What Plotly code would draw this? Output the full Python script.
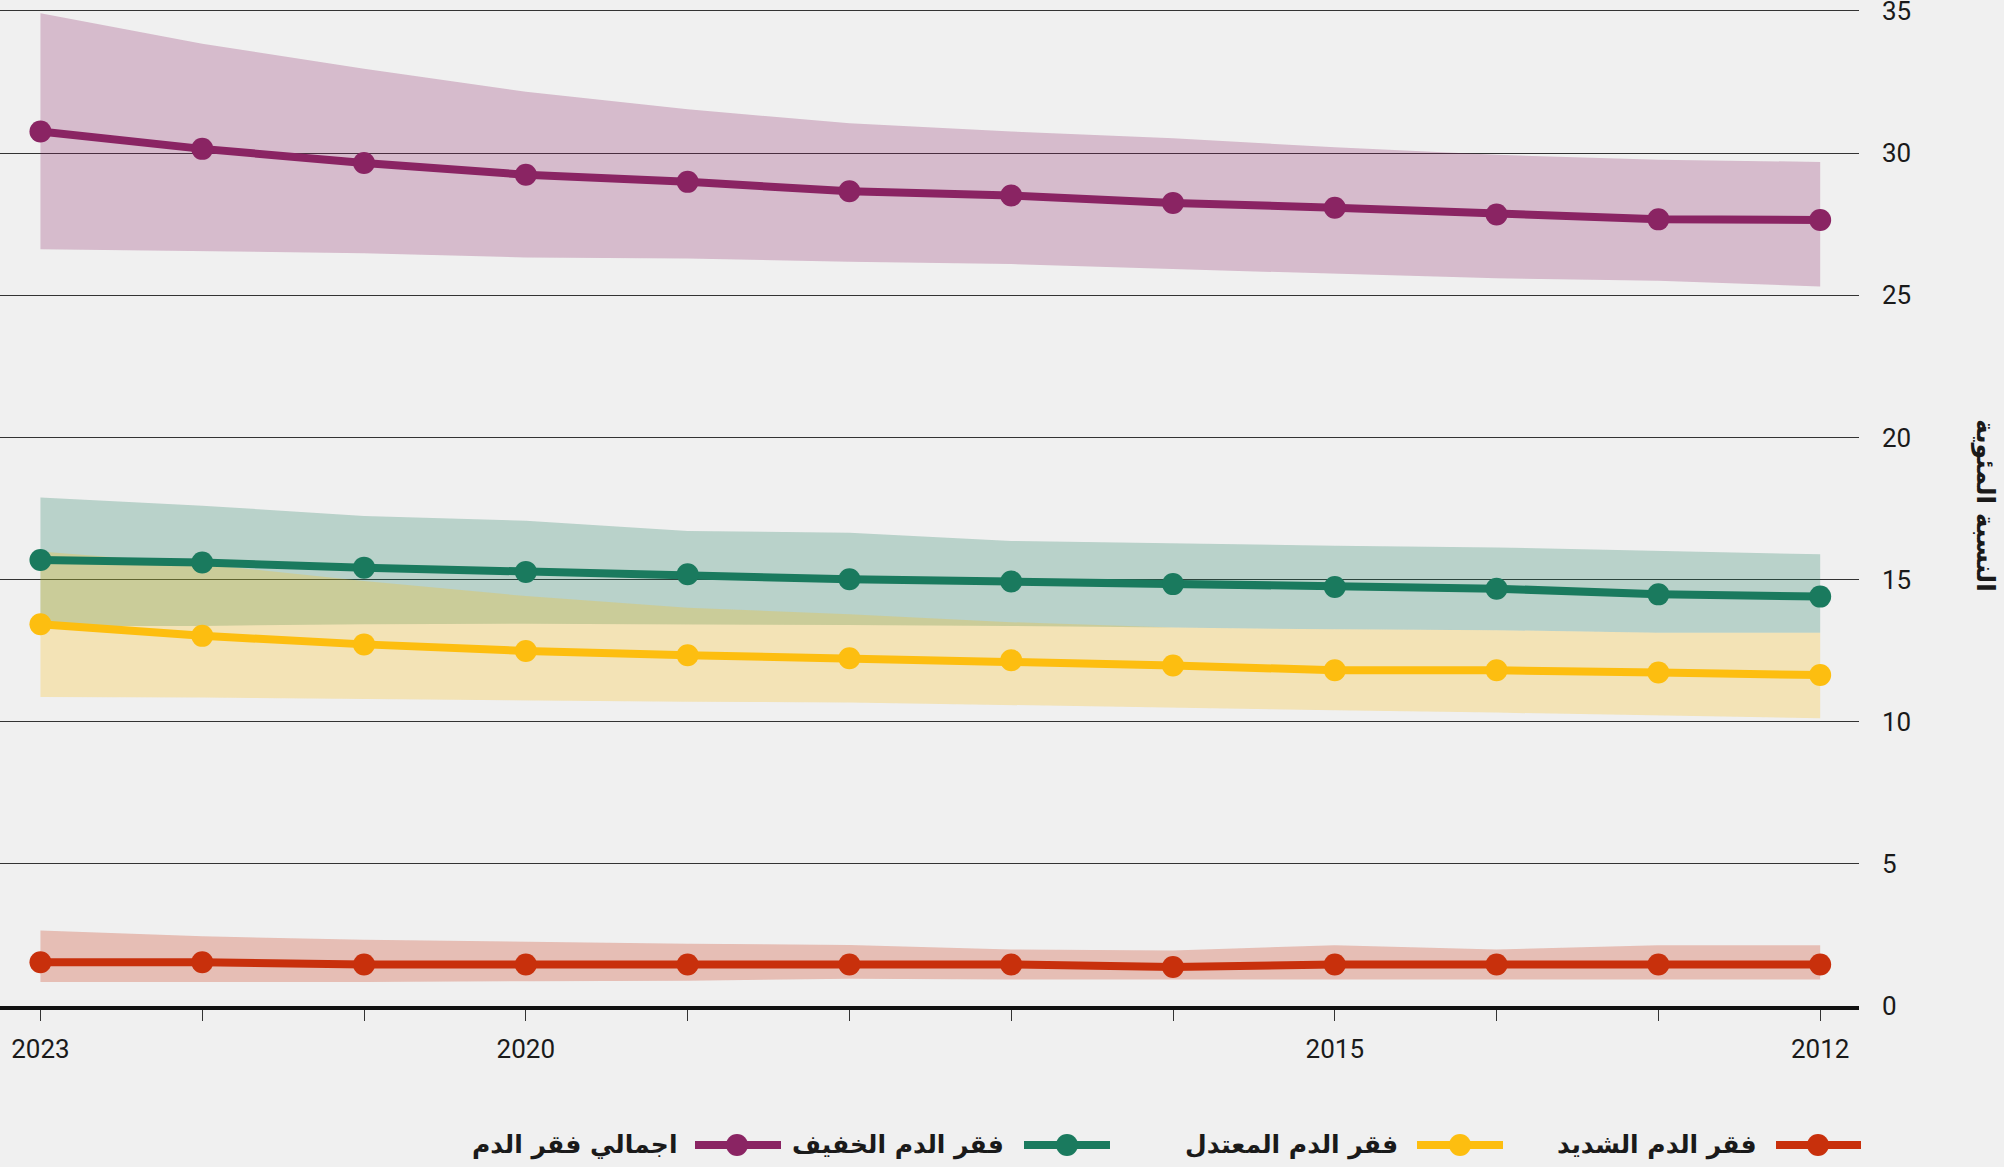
import plotly.graph_objects as go

# ---------------- data ----------------
years = [2023, 2022, 2021, 2020, 2019, 2018, 2017, 2016, 2015, 2014, 2013, 2012]
year_labels = ["2023", "", "", "2020", "", "", "", "", "2015", "", "", "2012"]
y_ticks = [0, 5, 10, 15, 20, 25, 30, 35]

name_total = "اجمالي فقر الدم"
name_mild = "فقر الدم الخفيف"
name_moderate = "فقر الدم المعتدل"
name_severe = "فقر الدم الشديد"
y_title = "النسبة المئوية"

total = [30.76, 30.15, 29.65, 29.24, 28.99, 28.66, 28.51, 28.25, 28.08, 27.84, 27.67, 27.65]
total_hi = [34.92, 33.85, 32.97, 32.16, 31.54, 31.05, 30.76, 30.52, 30.21, 29.94, 29.77, 29.69]
total_lo = [26.62, 26.56, 26.48, 26.33, 26.29, 26.18, 26.10, 25.92, 25.75, 25.60, 25.51, 25.31]

mild = [15.69, 15.60, 15.42, 15.27, 15.19, 15.01, 14.93, 14.84, 14.74, 14.68, 14.48, 14.40]
mild_hi = [17.89, 17.60, 17.24, 17.07, 16.71, 16.65, 16.36, 16.27, 16.19, 16.13, 16.01, 15.89]
mild_lo = [13.37, 13.37, 13.43, 13.45, 13.43, 13.40, 13.37, 13.31, 13.25, 13.22, 13.13, 13.13]

moderate = [13.43, 13.02, 12.72, 12.49, 12.34, 12.23, 12.16, 11.98, 11.81, 11.81, 11.73, 11.64]
moderate_hi = [15.99, 15.54, 14.95, 14.42, 14.01, 13.78, 13.50, 13.31, 13.25, 13.22, 13.13, 13.13]
moderate_lo = [10.87, 10.85, 10.79, 10.75, 10.70, 10.68, 10.59, 10.50, 10.40, 10.32, 10.23, 10.12]

severe = [1.54, 1.54, 1.46, 1.46, 1.46, 1.46, 1.46, 1.37, 1.46, 1.46, 1.46, 1.46]
severe_hi = [2.66, 2.45, 2.33, 2.25, 2.19, 2.15, 1.99, 1.95, 2.14, 1.99, 2.14, 2.14]
severe_lo = [0.84, 0.84, 0.84, 0.87, 0.89, 0.96, 0.93, 0.93, 0.93, 0.93, 0.93, 0.93]

# ---------------- styling ----------------
W, H = 2004, 1167
ML, MR, MT, MB = 0, 145, 9, 161
PW, PH = W - ML - MR, H - MT - MB
BG = "#F0F0F0"

C_TOTAL = "#8A2463"
C_MILD = "#1A7A5E"
C_MOD = "#FDBE10"
C_SEV = "#C8300C"

def rgba(hex_c, a):
    h = hex_c.lstrip("#")
    r, g, b = int(h[0:2], 16), int(h[2:4], 16), int(h[4:6], 16)
    return f"rgba({r},{g},{b},{a})"

def px_x(p):
    return (p - ML) / PW

def px_y(p):
    return (MT + PH - p) / PH

series = [
    (name_total, total, total_hi, total_lo, C_TOTAL),
    (name_mild, mild, mild_hi, mild_lo, C_MILD),
    (name_moderate, moderate, moderate_hi, moderate_lo, C_MOD),
    (name_severe, severe, severe_hi, severe_lo, C_SEV),
]

fig = go.Figure()

# bands first
for name, vals, hi, lo, col in series:
    fig.add_trace(go.Scatter(
        x=years + years[::-1],
        y=hi + lo[::-1],
        fill="toself",
        fillcolor=rgba(col, 0.26),
        line=dict(width=0, color="rgba(0,0,0,0)"),
        mode="lines",
        hoverinfo="skip",
        showlegend=False,
    ))

# lines on top
for name, vals, hi, lo, col in series:
    fig.add_trace(go.Scatter(
        x=years, y=vals, name=name,
        mode="lines+markers",
        line=dict(color=col, width=8),
        marker=dict(color=col, size=22),
        showlegend=False,
    ))

# ---------------- manual RTL legend ----------------
legend_items = [
    (name_severe, C_SEV, 1776, 1861, 1818, 1759),
    (name_moderate, C_MOD, 1417, 1503, 1460, 1400),
    (name_mild, C_MILD, 1024, 1110, 1067, 1006),
    (name_total, C_TOTAL, 695, 781, 737, 679),
]
LEG_Y = 1145
shapes = []
annotations = []
for name, col, x0, x1, xm, xt in legend_items:
    shapes.append(dict(type="line", xref="paper", yref="paper",
                       x0=px_x(x0), x1=px_x(x1), y0=px_y(LEG_Y), y1=px_y(LEG_Y),
                       line=dict(color=col, width=8), layer="above"))
    shapes.append(dict(type="circle", xref="paper", yref="paper",
                       xsizemode="pixel", ysizemode="pixel",
                       xanchor=px_x(xm), yanchor=px_y(LEG_Y),
                       x0=-11, x1=11, y0=-11, y1=11,
                       fillcolor=col, line=dict(width=0), layer="above"))
    annotations.append(dict(text=f"<b>{name}</b>", xref="paper", yref="paper",
                            x=px_x(xt), y=px_y(LEG_Y), xanchor="right", yanchor="middle",
                            showarrow=False,
                            font=dict(family="DejaVu Sans", size=25, color="#1a1a1a")))

# y-axis title (rotated, right side)
annotations.append(dict(text=f"<b>{y_title}</b>", xref="paper", yref="paper",
                        x=px_x(1985), y=px_y(505), xanchor="center", yanchor="middle",
                        textangle=90, showarrow=False,
                        font=dict(family="DejaVu Sans", size=25, color="#1a1a1a")))

fig.update_layout(
    width=W, height=H,
    margin=dict(l=ML, r=MR, t=MT, b=MB, pad=0, autoexpand=False),
    paper_bgcolor=BG, plot_bgcolor=BG,
    showlegend=False,
    shapes=shapes,
    annotations=annotations,
    font=dict(family="Roboto", size=26, color="#1a1a1a"),
)

fig.update_xaxes(
    range=[2023.25, 2011.76],
    tickvals=years, ticktext=year_labels,
    ticks="outside", ticklen=11, tickwidth=1, tickcolor="#333",
    showline=True, linecolor="#111", linewidth=4,
    showgrid=False, zeroline=False,
    tickfont=dict(family="Roboto", size=26, color="#1a1a1a"),
    ticklabelstandoff=6,
    automargin=False,
)
fig.update_yaxes(
    range=[0, 35.07], side="right",
    tickvals=y_ticks,
    showgrid=True, gridcolor="#333", gridwidth=1,
    zeroline=False, showline=False, ticks="",
    tickfont=dict(family="Roboto", size=26, color="#1a1a1a"),
    ticklabelstandoff=22,
    ticklabeloverflow="allow",
    automargin=False,
)

fig.write_html(
    "out.html",
    config={"displayModeBar": False},
    post_script="document.body.style.margin='0';document.body.style.padding='0';document.body.style.background='#F0F0F0';",
)
